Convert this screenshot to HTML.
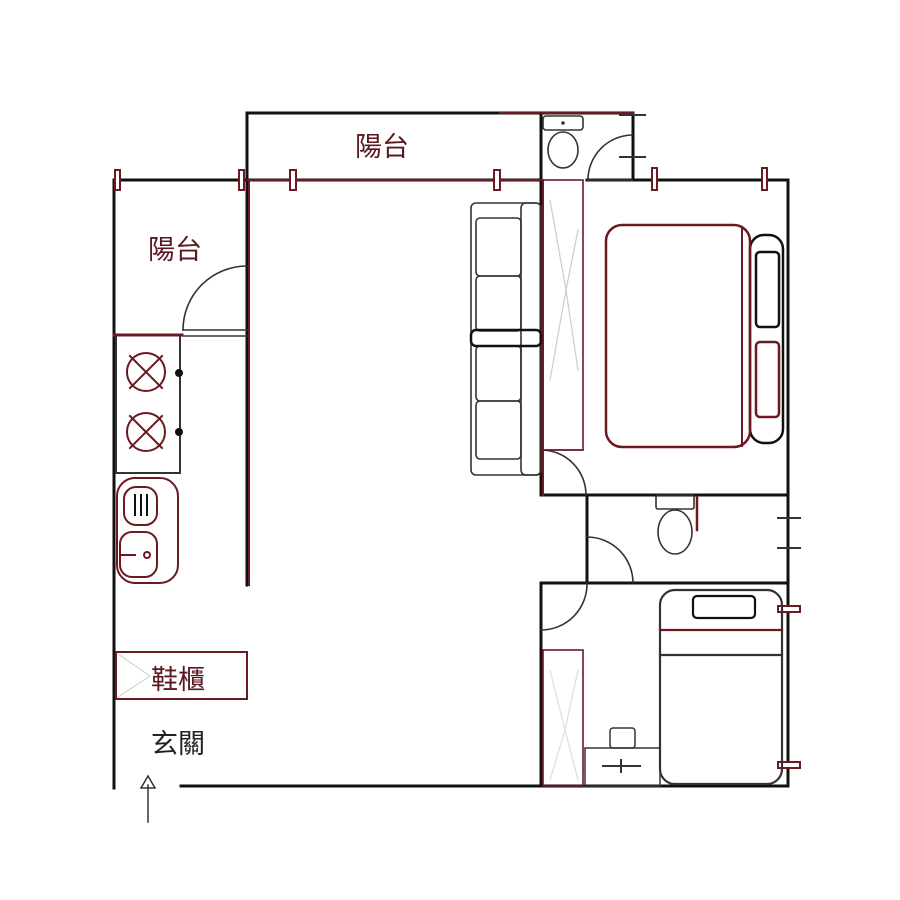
<!DOCTYPE html>
<html><head><meta charset="utf-8"><style>
html,body{margin:0;padding:0;background:#fff;width:900px;height:900px;overflow:hidden}
svg{display:block}
text{font-family:"Liberation Sans","Noto Sans CJK TC",sans-serif;font-size:27px;fill:#5a1820}
</style></head><body>
<svg width="900" height="900" viewBox="0 0 900 900" xmlns="http://www.w3.org/2000/svg">
<rect width="900" height="900" fill="#fff"/>
<g fill="none" stroke-linecap="square">
<g stroke="#111" stroke-width="3">
<line x1="114" y1="180" x2="114" y2="788"/>
<line x1="114" y1="180" x2="541" y2="180"/>
<line x1="247" y1="113" x2="633" y2="113"/>
<line x1="247" y1="113" x2="247" y2="585"/>
<line x1="633" y1="113" x2="633" y2="180"/>
<line x1="587" y1="180" x2="788" y2="180"/>
<line x1="788" y1="180" x2="788" y2="786"/>
<line x1="181" y1="786" x2="788" y2="786"/>
<line x1="541" y1="113" x2="541" y2="495"/>
<line x1="541" y1="495" x2="788" y2="495"/>
<line x1="587" y1="495" x2="587" y2="583"/>
<line x1="541" y1="583" x2="788" y2="583"/>
<line x1="541" y1="583" x2="541" y2="786"/>
</g>
<g stroke="#6b1a22" stroke-width="2">
<line x1="247" y1="180" x2="541" y2="180"/>
<line x1="500" y1="113" x2="633" y2="113"/>
<line x1="249" y1="180" x2="249" y2="585"/>
<line x1="543" y1="180" x2="543" y2="495"/>
</g>
<g stroke="#6b1a22" stroke-width="2" fill="#fff">
<rect x="115" y="170" width="5" height="20"/>
<rect x="239" y="170" width="5" height="20"/>
<rect x="290" y="170" width="6" height="20"/>
<rect x="494" y="170" width="6" height="20"/>
<rect x="652" y="168" width="5" height="22"/>
<rect x="762" y="168" width="5" height="22"/>
<rect x="778" y="606" width="22" height="6"/>
<rect x="778" y="762" width="22" height="6"/>
</g>
<g stroke="#333" stroke-width="2">
<line x1="620" y1="115" x2="645" y2="115"/>
<line x1="620" y1="157" x2="645" y2="157"/>
<line x1="778" y1="518" x2="800" y2="518"/>
<line x1="778" y1="548" x2="800" y2="548"/>
</g>
<g stroke="#333" stroke-width="1.6">
<path d="M247 266 A64 64 0 0 0 183 330"/>
<line x1="183" y1="330" x2="247" y2="330"/><line x1="183" y1="336" x2="247" y2="336"/>
<path d="M632 135 A45 45 0 0 0 588 180"/><line x1="588" y1="180" x2="632" y2="180"/>
<path d="M541 450 A45 45 0 0 1 586 495"/><line x1="541" y1="450" x2="583" y2="450"/>
<path d="M587 537 A46 46 0 0 1 633 583"/>
<path d="M587 583 A46 46 0 0 1 541 630"/>
</g>
<g stroke="#6b1a22" stroke-width="2">
<rect x="116" y="335" width="64" height="138" stroke="#333"/>
<line x1="114" y1="335" x2="182" y2="335" stroke-width="3"/>
<circle cx="146" cy="372" r="19"/><circle cx="146" cy="432" r="19"/>
<path d="M130 356 L162 388 M162 356 L130 388 M130 416 L162 448 M162 416 L130 448"/>
<rect x="117" y="478" width="61" height="105" rx="18"/>
<rect x="124" y="487" width="33" height="38" rx="12"/>
<rect x="120" y="532" width="37" height="45" rx="12"/>
<path d="M135 495 V515 M141 495 V515 M147 495 V515" stroke="#111"/>
<circle cx="147" cy="555" r="3"/><line x1="121" y1="555" x2="135" y2="555"/>
</g>
<circle cx="179" cy="373" r="4" fill="#111"/><circle cx="179" cy="432" r="4" fill="#111"/>
<rect x="116" y="652" width="131" height="47" stroke="#6b1a22" stroke-width="2"/>
<path d="M118 654 L150 676 L118 697" stroke="#ccc" stroke-width="1"/>
<line x1="148" y1="822" x2="148" y2="785" stroke="#333" stroke-width="1.5"/>
<path d="M141 788 L148 776 L155 788 Z" stroke="#333" stroke-width="1.5"/>
<g stroke="#333" stroke-width="1.6">
<rect x="471" y="203" width="70" height="272" rx="5"/>
<rect x="521" y="203" width="20" height="272" rx="5"/>
<rect x="476" y="218" width="45" height="58" rx="4"/>
<rect x="476" y="276" width="45" height="55" rx="4"/>
<rect x="476" y="346" width="45" height="55" rx="4"/>
<rect x="476" y="401" width="45" height="58" rx="4"/>
<rect x="471" y="330" width="70" height="16" rx="5" stroke="#111" stroke-width="2.5"/>
</g>
<rect x="543" y="180" width="40" height="270" stroke="#6b1a22" stroke-width="1.6"/>
<path d="M550 200 L566 290 L550 380 M578 230 L566 290 L578 370" stroke="#ccc" stroke-width="1.2"/>
<g stroke="#333" stroke-width="1.6">
<rect x="543" y="116" width="40" height="14" rx="3"/>
<ellipse cx="563" cy="150" rx="15" ry="18"/>
</g>
<circle cx="563" cy="123" r="1.8" fill="#333"/>
<g stroke-width="2.5">
<rect x="750" y="235" width="33" height="208" rx="14" stroke="#111"/>
<rect x="606" y="225" width="144" height="222" rx="16" stroke="#6b1a22"/>
<line x1="742" y1="227" x2="742" y2="446" stroke="#6b1a22" stroke-width="2"/>
<rect x="756" y="252" width="23" height="75" rx="4" stroke="#111"/>
<rect x="756" y="342" width="23" height="75" rx="4" stroke="#6b1a22"/>
</g>
<g stroke="#333" stroke-width="1.6">
<rect x="656" y="495" width="38" height="14" rx="2"/>
<ellipse cx="675" cy="532" rx="17" ry="22"/>
<line x1="697" y1="497" x2="697" y2="530" stroke="#6b1a22" stroke-width="2.5"/>
</g>
<rect x="543" y="650" width="40" height="136" stroke="#6b1a22" stroke-width="1.6"/>
<path d="M550 670 L565 730 L550 780 M578 670 L565 730 L578 780" stroke="#ddd" stroke-width="1.2"/>
<g stroke="#333" stroke-width="2.2">
<rect x="660" y="590" width="122" height="194" rx="15"/>
<line x1="660" y1="630" x2="782" y2="630" stroke="#6b1a22"/>
<line x1="660" y1="655" x2="782" y2="655"/>
<rect x="693" y="596" width="62" height="22" rx="4" stroke="#111"/>
<rect x="585" y="748" width="75" height="38" stroke-width="1.5"/>
<rect x="610" y="728" width="25" height="20" rx="3" stroke-width="1.5"/>
<line x1="603" y1="766" x2="640" y2="766" stroke-width="2"/>
<line x1="621" y1="760" x2="621" y2="772" stroke-width="2"/>
</g>
</g>
<text x="355" y="156">陽台</text>
<text x="148" y="259">陽台</text>
<text x="151" y="689">鞋櫃</text>
<text x="151" y="753" style="fill:#222">玄關</text>
</svg>
</body></html>
